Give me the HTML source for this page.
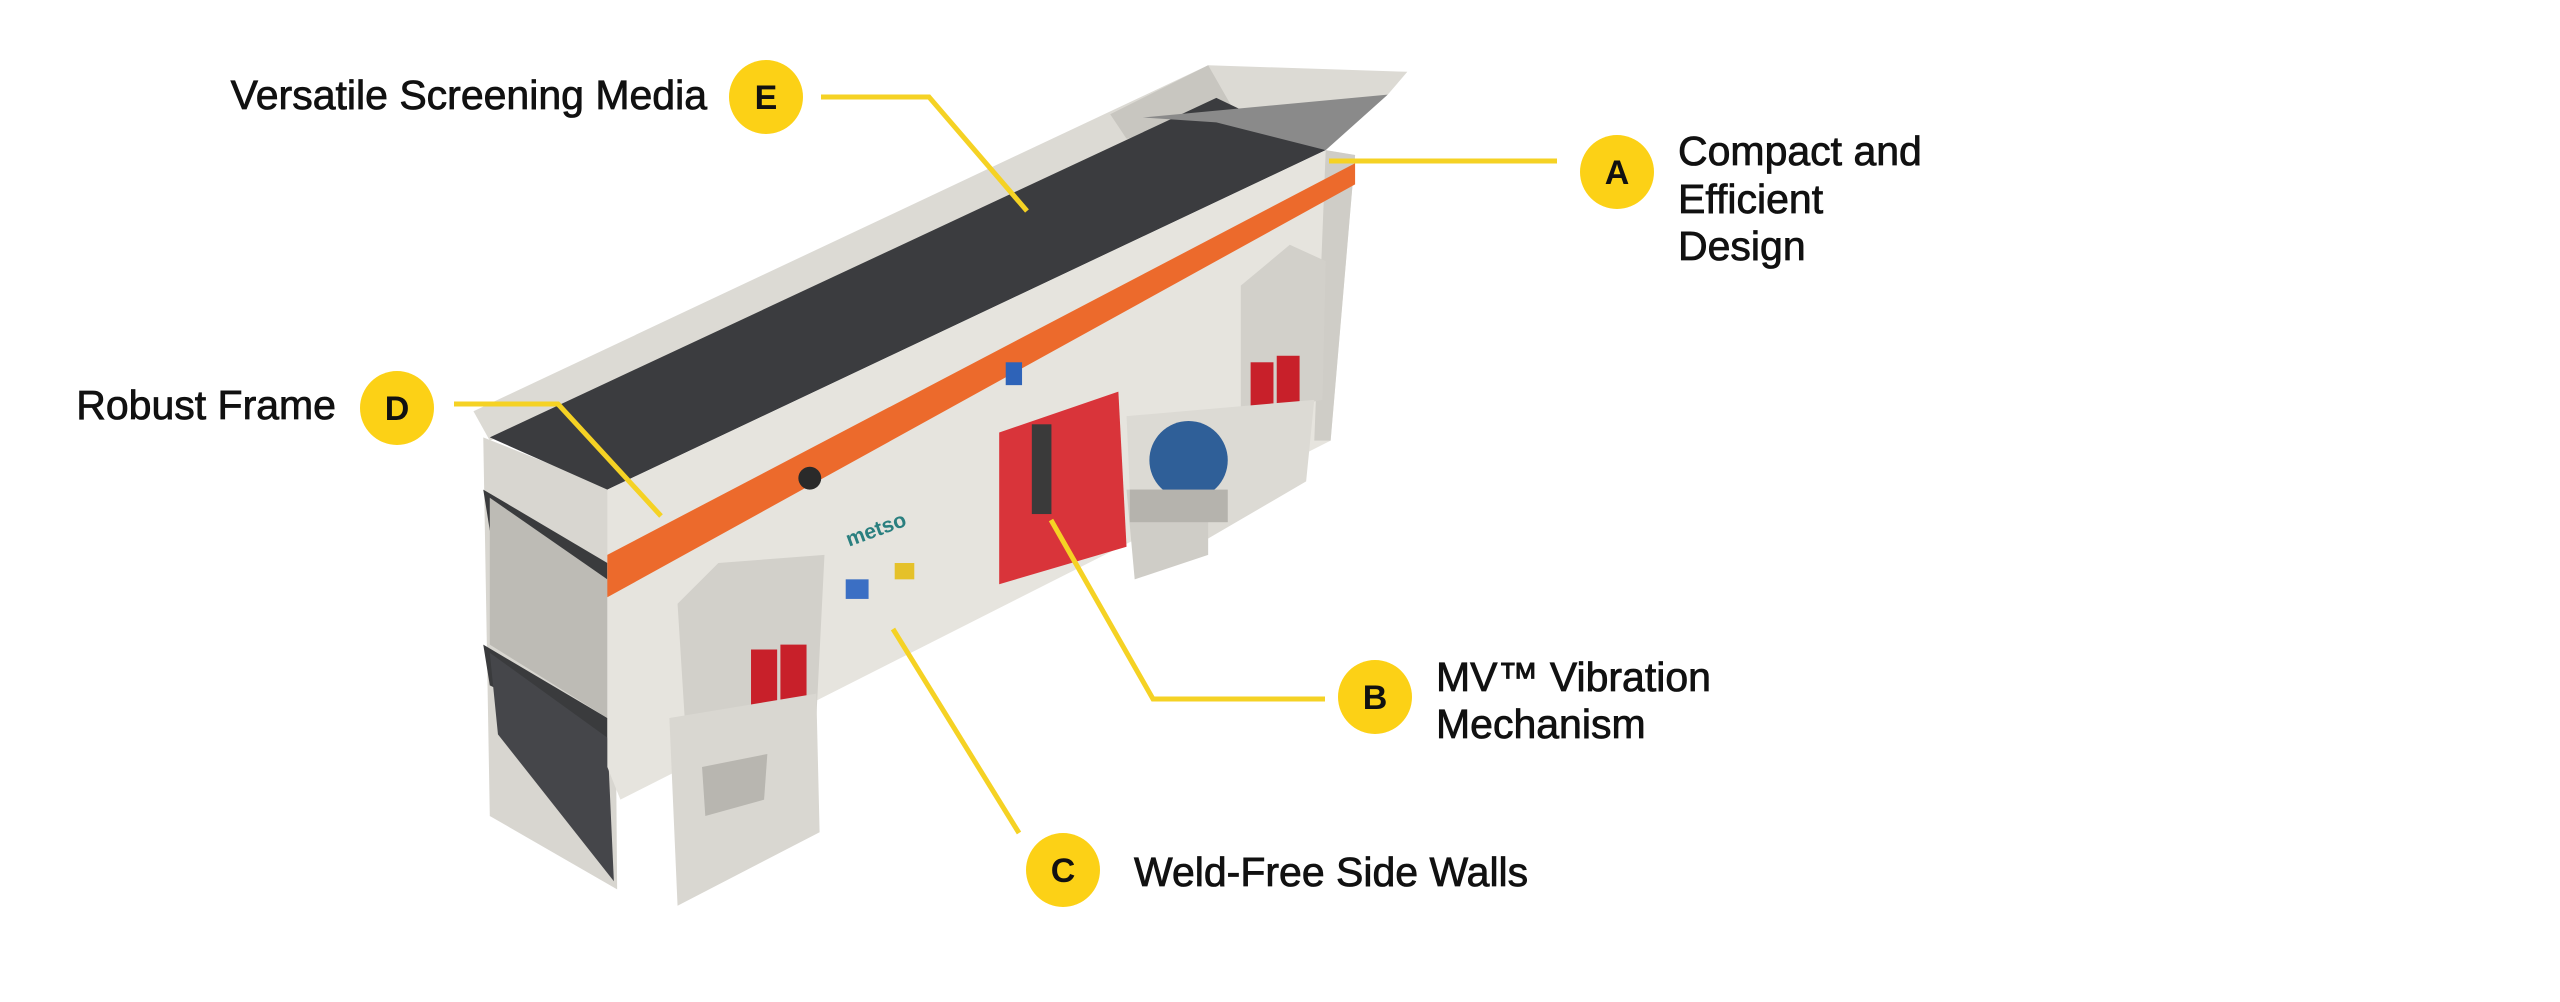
<!DOCTYPE html>
<html><head><meta charset="utf-8"><style>
html,body{margin:0;padding:0;background:#fff;}
#w{position:relative;width:2560px;height:1002px;overflow:hidden;background:#fff;}
svg{position:absolute;left:0;top:0;}
</style></head><body><div id="w">
<svg width="2560" height="1002" viewBox="0 0 1568 614" preserveAspectRatio="none">
 <polygon points="296,268 376,300 378,545 300,500" fill="#d8d6d0"/>
 <polygon points="296,300 372,345 372,365 300,325" fill="#3a3b3d"/>
 <polygon points="296,395 372,440 372,455 300,420" fill="#3a3b3d"/>
 <polygon points="300,400 372,452 376,540 305,450" fill="#45464a"/>
 <polygon points="300,305 372,355 372,440 300,395" fill="#bdbbb5"/>
 <polygon points="290,252 740,40 862,44 850,58 300,270" fill="#dcdad4"/>
 <polygon points="680,70 740,40 760,75 690,85" fill="#c8c6c0"/>
 <polygon points="300,268 745,60 812,92 372,300" fill="#3b3c3f"/>
 <polygon points="700,72 850,58 812,92 745,75" fill="#8a8a8a"/>
 <polygon points="372,300 812,92 830,95 815,270 380,490 372,470" fill="#e6e4de"/>
 <polygon points="812,92 830,95 815,270 805,270" fill="#cfcdc7"/>
 <polygon points="372,340 830,100 830,113 372,366" fill="#ec6a2c"/>
 <circle cx="496" cy="293" r="7" fill="#2a2a2a"/>
 <text x="520" y="335" font-family="Liberation Sans, sans-serif" font-size="13" font-weight="bold" fill="#2a7f7f" transform="rotate(-20 520 335)">metso</text>
 <rect x="518" y="355" width="14" height="12" fill="#3b6fc4"/>
 <rect x="548" y="345" width="12" height="10" fill="#e5c12a"/>
 <rect x="616" y="222" width="10" height="14" fill="#2e63b8"/>
 <polygon points="415,370 440,345 505,340 500,440 420,450" fill="#d2d0ca"/>
 <rect x="460" y="398" width="16" height="42" fill="#c8202a"/>
 <rect x="478" y="395" width="16" height="42" fill="#c8202a"/>
 <polygon points="410,440 500,425 502,510 415,555" fill="#d9d7d1"/>
 <polygon points="430,470 470,462 468,490 432,500" fill="#b8b6b0"/>
 <polygon points="760,175 790,150 812,160 810,245 760,255" fill="#d2d0ca"/>
 <rect x="766" y="222" width="14" height="30" fill="#c8202a"/>
 <rect x="782" y="218" width="14" height="30" fill="#c8202a"/>
 <polygon points="690,255 805,245 800,295 740,330 700,350 692,300" fill="#dcdad4"/>
 <polygon points="690,300 740,300 740,340 695,355" fill="#cfcdc7"/>
 <polygon points="612,265 685,240 690,335 612,358" fill="#d9343a"/>
 <rect x="632" y="260" width="12" height="55" fill="#3a3a3a"/>
 <circle cx="728" cy="282" r="24" fill="#2f5f98"/>
 <rect x="692" y="300" width="60" height="20" fill="#b5b3ad"/>
</svg>
<svg width="2560" height="1002" viewBox="0 0 2560 1002" font-family="Liberation Sans, sans-serif">
 <g stroke="#f5d224" stroke-width="5" fill="none">
  <polyline points="821,97 929,97 1027,211"/>
  <polyline points="454,404 558,404 661,516"/>
  <polyline points="1329,161 1557,161"/>
  <polyline points="1051,520 1153,699 1325,699"/>
  <polyline points="893,629 1019,833"/>
 </g>
 <g fill="#fcd116">
  <circle cx="766" cy="97" r="37"/>
  <circle cx="397" cy="408" r="37"/>
  <circle cx="1617" cy="172" r="37"/>
  <circle cx="1375" cy="697" r="37"/>
  <circle cx="1063" cy="870" r="37"/>
 </g>
 <g font-size="34" font-weight="bold" fill="#111" text-anchor="middle">
  <text x="766" y="109">E</text>
  <text x="397" y="420">D</text>
  <text x="1617" y="184">A</text>
  <text x="1375" y="709">B</text>
  <text x="1063" y="882">C</text>
 </g>
 <g font-size="41" fill="#111" stroke="#111" stroke-width="0.8">
  <text x="707" y="109" text-anchor="end">Versatile Screening Media</text>
  <text x="336" y="419" text-anchor="end">Robust Frame</text>
  <text x="1678" y="165">Compact and</text>
  <text x="1678" y="213">Efficient</text>
  <text x="1678" y="260">Design</text>
  <text x="1436" y="691">MV™ Vibration</text>
  <text x="1436" y="738">Mechanism</text>
  <text x="1134" y="886">Weld-Free Side Walls</text>
 </g>
</svg>
</div></body></html>
